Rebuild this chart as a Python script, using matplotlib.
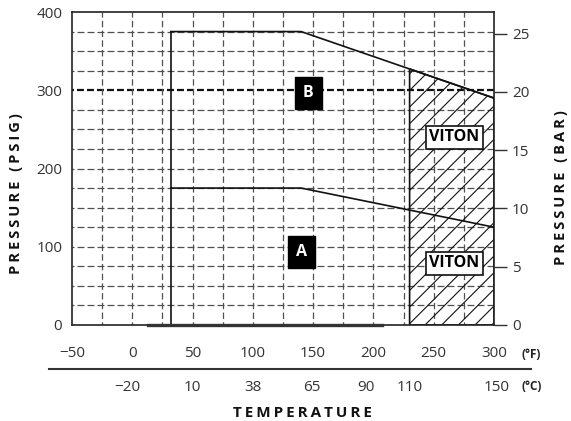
import numpy as np
import matplotlib
matplotlib.use("Agg")
import matplotlib.pyplot as plt
from matplotlib.patches import Polygon

plt.rcParams['font.family'] = ['Open Sans', 'DejaVu Sans']
plt.rcParams['lines.scale_dashes'] = False

# ---- data ----
temp_f_ticks = [-50, 0, 50, 100, 150, 200, 250, 300]
temp_c_ticks = [-20, 10, 38, 65, 90, 110, 150]
psig_ticks = [0, 100, 200, 300, 400]
bar_ticks = [0, 5, 10, 15, 20, 25]
PSI_PER_BAR = 14.9

curve_a_x = [32, 140, 300]
curve_a_y = [175, 175, 125]
curve_b_x = [32, 140, 300]
curve_b_y = [375, 375, 290]
min_temp_f = 32
viton_start_f = 230
bottom_seg_f = [13, 207]

label_a = ("A", 140, 93)
label_b = ("B", 146, 296)
viton_labels = [("VITON", 267, 240), ("VITON", 267, 79)]

W, H = 571, 421
fig = plt.figure(figsize=(W / 100, H / 100), dpi=100)
L, R, T, B = 72, 494, 12, 325
ax = fig.add_axes([L / W, 1 - B / H, (R - L) / W, (B - T) / H])
ax.set_xlim(-50, 300)
ax.set_ylim(0, 400)

for s in ax.spines.values():
    s.set_linewidth(1.2)
    s.set_color('#222')

# grid
gcol = '#505050'
hdash = (3.6, (5.0, 2.2))
vdash = (2.3, (4.6, 2.4))
for yv in np.arange(25, 400, 25):
    if yv == 300:
        continue
    ax.plot([-50, 300], [yv, yv], color=gcol, lw=0.9, linestyle=hdash, zorder=1)
ax.plot([-50, 300], [300, 300], color='#111', lw=1.6, linestyle=hdash, zorder=1)
for xv in np.arange(-25, 300, 25):
    ax.plot([xv, xv], [0, 400], color=gcol, lw=0.9, linestyle=vdash, zorder=1)

# viton hatch region
hx = [viton_start_f, viton_start_f, 300, 300]
hy = [0, np.interp(viton_start_f, curve_b_x, curve_b_y),
      curve_b_y[-1], 0]
matplotlib.rcParams['hatch.linewidth'] = 0.8
poly = Polygon(list(zip(hx, hy)), closed=True, facecolor='none',
               edgecolor='#111', hatch='//', lw=1.2, zorder=2)
ax.add_patch(poly)

# curves
ax.plot(curve_a_x, curve_a_y, color='#111', lw=1.2, zorder=3)
ax.plot(curve_b_x, curve_b_y, color='#111', lw=1.2, zorder=3)
ax.plot([min_temp_f, min_temp_f], [0, curve_b_y[0]], color='#111', lw=1.2, zorder=3)
ax.plot(bottom_seg_f, [0, 0], color='#333', lw=2.4, zorder=3, clip_on=False)

# labels
for txt, x, y in [label_a, label_b]:
    ax.text(x, y, txt, ha='center', va='center', color='white',
            fontsize=11.5, fontweight='bold', zorder=5,
            bbox=dict(boxstyle='square,pad=0.5', fc='black', ec='black'))
for txt, x, y in viton_labels:
    ax.text(x, y, txt, ha='center', va='center', color='black',
            fontsize=11.5, fontweight='bold', zorder=5,
            bbox=dict(boxstyle='square,pad=0.22', fc='white', ec='#111', lw=1.2))

tick_fs = 11
# left axis
ax.set_yticks(psig_ticks)
ax.set_yticklabels([str(v) for v in psig_ticks], fontsize=tick_fs, color='#333')
ax.tick_params(axis='y', length=0, pad=7)

# bottom F axis
ax.set_xticks(temp_f_ticks)
ax.set_xticklabels(['\u221250' if v == -50 else str(v) for v in temp_f_ticks],
                   fontsize=tick_fs, color='#333')
ax.tick_params(axis='x', length=0, pad=15)

# right bar axis
sec = ax.secondary_yaxis('right', functions=(lambda p: p / PSI_PER_BAR,
                                              lambda b: b * PSI_PER_BAR))
sec.set_yticks(bar_ticks)
sec.set_yticklabels([str(v) for v in bar_ticks], fontsize=tick_fs, color='#333')
sec.tick_params(axis='y', length=9, width=1, color='#333', pad=4)
sec.spines['right'].set_visible(False)

# Celsius axis: its own axes spanning the separator line (x 49..531 px)
CL, CR, CY = 49, 531, 369
f_left = -50 + (CL - L) / (R - L) * 350
f_right = -50 + (CR - L) / (R - L) * 350
axc = fig.add_axes([CL / W, 1 - CY / H, (CR - CL) / W, 0.001])
axc.set_xlim((f_left - 32) * 5 / 9, (f_right - 32) * 5 / 9)
axc.set_ylim(0, 1)
axc.patch.set_visible(False)
for k in ['top', 'left', 'right']:
    axc.spines[k].set_visible(False)
axc.spines['bottom'].set_linewidth(1.5)
axc.spines['bottom'].set_color('#333')
axc.set_yticks([])
axc.set_xticks(temp_c_ticks)
axc.set_xticklabels(['\u221220' if v == -20 else str(v) for v in temp_c_ticks],
                    fontsize=tick_fs, color='#333')
axc.tick_params(axis='x', length=0, pad=8)

def spaced(s, sep='\u2009'):
    return sep.join(s)

fig.text(521 / W, 1 - 354 / H, '(°F)', fontsize=8.5, fontweight='bold',
         va='center', ha='left', color='#222')
fig.text(521 / W, 1 - 387 / H, '(°C)', fontsize=8.5, fontweight='bold',
         va='center', ha='left', color='#222')
fig.text(302 / W, 1 - 413 / H, spaced('TEMPERATURE'), fontsize=11,
         fontweight='bold', ha='center', va='center', color='#111')
fig.text(16 / W, 1 - 194 / H, spaced('PRESSURE (PSIG)', '\u200a\u200a'), fontsize=10.5,
         fontweight='bold', ha='center', va='center', rotation=90, color='#111')
fig.text(561 / W, 1 - 188 / H, spaced('PRESSURE (BAR)', '\u200a\u200a'), fontsize=10.5,
         fontweight='bold', ha='center', va='center', rotation=90, color='#111')

fig.savefig('out.png', dpi=100)
